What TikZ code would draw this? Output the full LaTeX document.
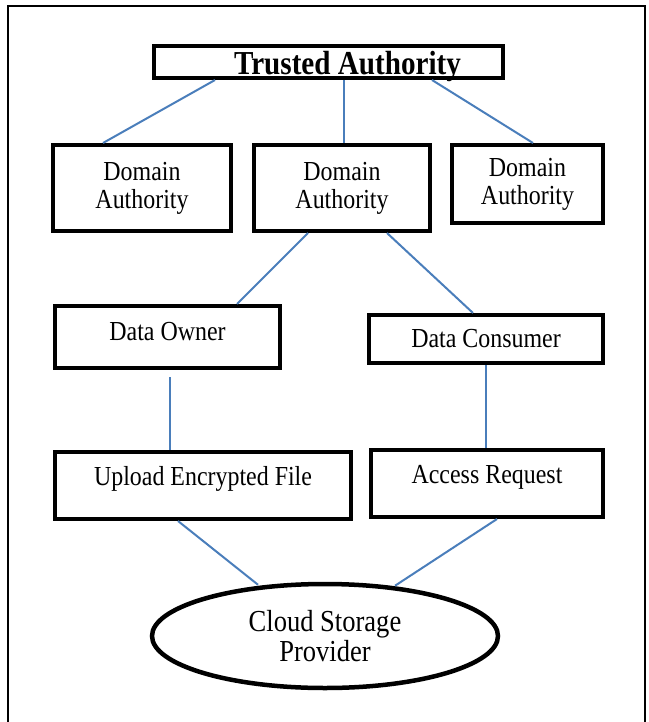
\documentclass[tikz,border=0pt]{standalone}
\usepackage{fontspec}
\setmainfont{Liberation Serif}[FakeStretch=0.87]
\usetikzlibrary{shapes.geometric}
\definecolor{linkblue}{HTML}{4A7EBB}
\begin{document}
\begin{tikzpicture}[x=1pt,y=-1pt,
  box/.style={draw=black, line width=4pt, rectangle, inner sep=0pt, align=center, font=\fontsize{27.5}{28}\selectfont},
  lbl/.style={font=\fontsize{27.5}{28}\selectfont, inner sep=0pt},
  link/.style={draw=linkblue, line width=2pt}]
\useasboundingbox[fill=white] (0,0) rectangle (648,722);
\draw[line width=2pt] (8,722) -- (8,6) -- (645,6) -- (645,722);

\node[box, minimum width=349pt, minimum height=32pt, label={[font=\fontsize{33.5}{34}\selectfont\bfseries, inner sep=0pt, xshift=19pt, yshift=-4pt]center:Trusted Authority}] (ta) at (328.5,62) {};
\node[box, minimum width=178pt, minimum height=86pt] (da1) at (142,188) {Domain\\Authority};
\node[box, minimum width=176pt, minimum height=86pt] (da2) at (342,188) {Domain\\Authority};
\node[box, minimum width=151pt, minimum height=78pt] (da3) at (527.5,184) {Domain\\Authority};
\node[box, minimum width=225pt, minimum height=62pt, label={[lbl, yshift=5pt]center:Data Owner}] (do) at (167.5,337) {};
\node[box, minimum width=234pt, minimum height=48pt] (dc) at (486,339) {Data Consumer};
\node[box, minimum width=296pt, minimum height=67pt, label={[lbl, yshift=7pt]center:Upload Encrypted File}] (ue) at (203,485.5) {};
\node[box, minimum width=232pt, minimum height=67pt, label={[lbl, yshift=6pt]center:Access Request}] (ar) at (487,483.5) {};
\node[draw=black, line width=4.5pt, ellipse, inner sep=0pt, minimum width=346pt, minimum height=104pt, align=center, font=\fontsize{30.5}{30}\selectfont] (cs) at (325,636) {Cloud Storage\\Provider};

\draw[link] ([xshift=-113.5pt]ta.south) -- ([xshift=-39pt]da1.north);
\draw[link] ([xshift=15.5pt]ta.south) -- ([xshift=2pt]da2.north);
\draw[link] ([xshift=103.5pt]ta.south) -- ([xshift=5.5pt]da3.north);
\draw[link] ([xshift=-34pt]da2.south) -- ([xshift=69.5pt]do.north);
\draw[link] ([xshift=45pt]da2.south) -- ([xshift=-13pt]dc.north);
\draw[link] ([xshift=2.5pt,yshift=-7pt]do.south) -- ([xshift=-33pt]ue.north);
\draw[link] (dc.south) -- ([xshift=-1pt]ar.north);
\draw[link] ([xshift=-25pt]ue.south) -- ([xshift=-67pt,yshift=-3pt]cs.north);
\draw[link] ([xshift=10pt]ar.south) -- ([xshift=70pt,yshift=-4pt]cs.north);
\end{tikzpicture}
\end{document}
